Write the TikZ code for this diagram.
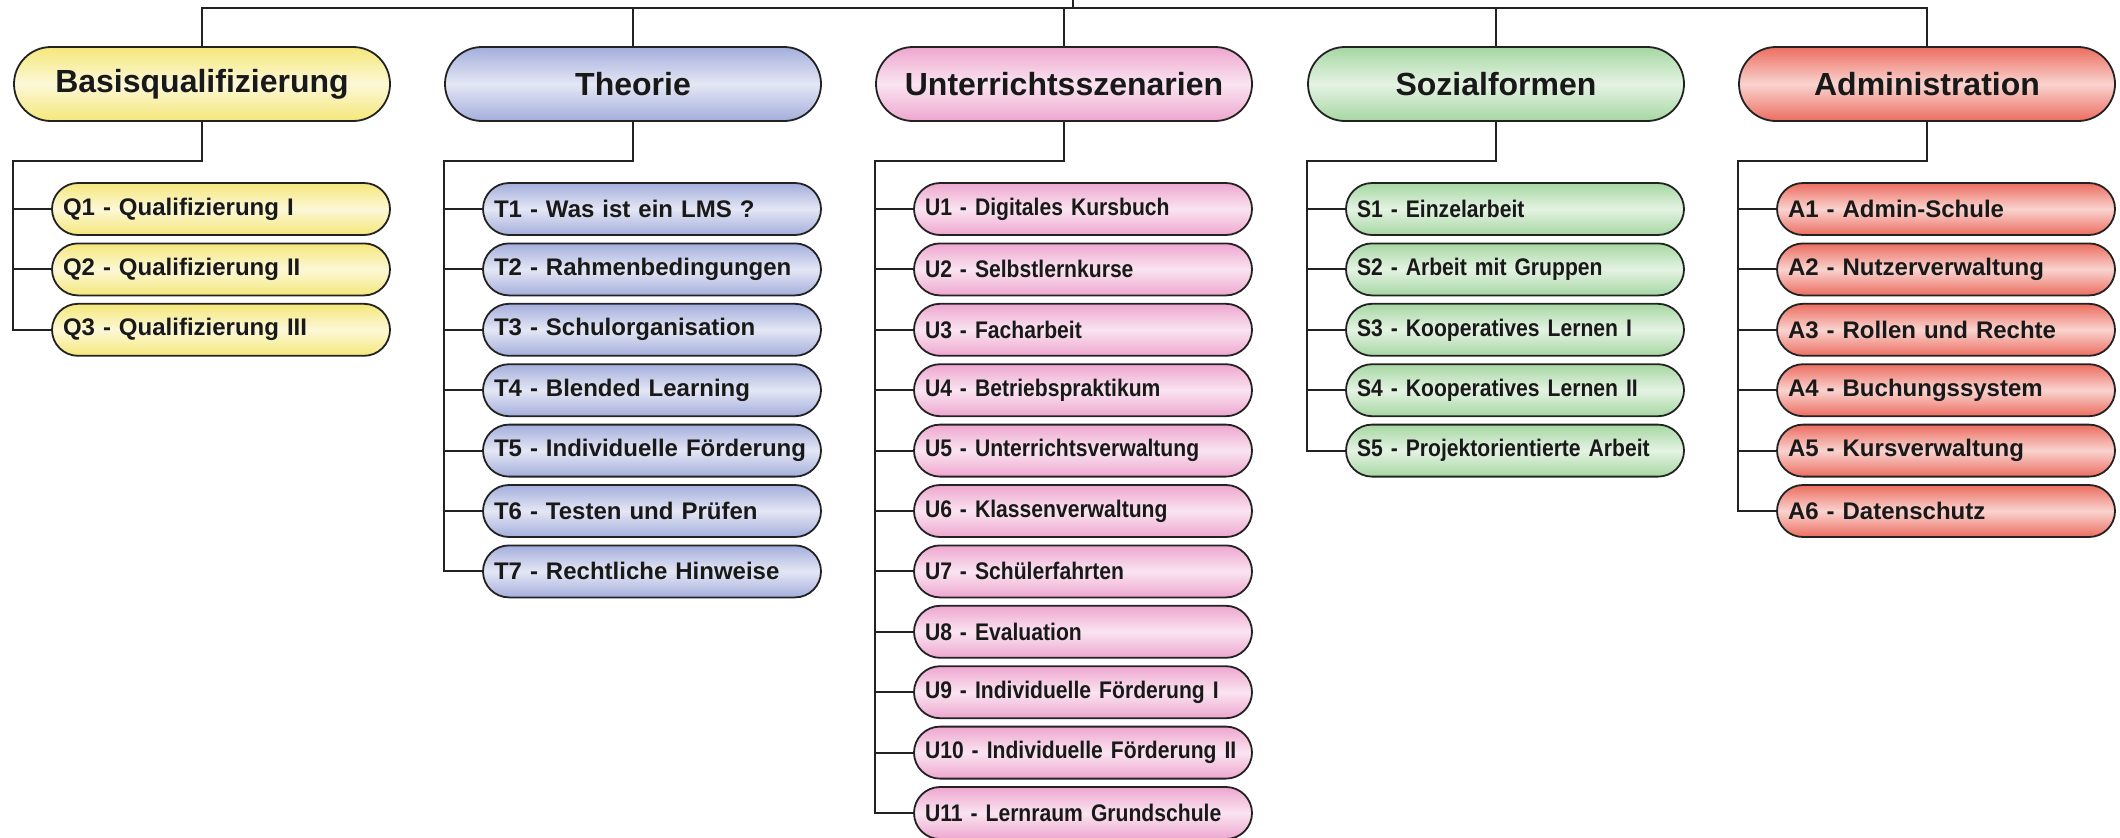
\documentclass[tikz,border=0pt]{standalone}
\usepackage{fontspec}
\setmainfont{Liberation Sans}
\newfontfamily\schmal[FakeStretch=0.88]{Liberation Sans}
\usetikzlibrary{positioning}

\definecolor{gelb}{HTML}{F5E77A}
\definecolor{blau}{HTML}{A4AEDC}
\definecolor{rosa}{HTML}{EEA6CF}
\definecolor{gruen}{HTML}{A6D7A2}
\definecolor{rot}{HTML}{EC6D60}
\definecolor{linie}{HTML}{222222}

\tikzset{
  box/.style={draw=linie, line width=0.9pt, top color=#1, bottom color=#1,
    middle color=#1!30!white, text=black!90},
  hdr/.style={box=#1, minimum width=188pt, minimum height=37pt,
    rounded corners=18.5pt, font=\bfseries\fontsize{16}{19}\selectfont},
  itm/.style={box=#1, minimum height=26pt, text width=158pt, inner xsep=5.5pt,
    align=left, rounded corners=13pt, font=\bfseries\fontsize{12}{14}\selectfont},
  itmn/.style={itm=#1, font=\schmal\bfseries\fontsize{12}{14}\selectfont},
  conn/.style={draw=linie, line width=1pt}
}

\begin{document}
\begin{tikzpicture}[x=0.5pt,y=-0.5pt]
      \useasboundingbox (0,0) rectangle (2120,837);
      \coordinate (top) at (1073,0);
      \coordinate (bar) at (1073,8);
      % headers
      \node[hdr=gelb] (basis) at (202,84) {Basisqualifizierung};
      \node[hdr=blau] (theorie) at (633,84) {Theorie};
      \node[hdr=rosa] (unterricht) at (1064,84) {Unterrichtsszenarien};
      \node[hdr=gruen] (sozial) at (1496,84) {Sozialformen};
      \node[hdr=rot] (admin) at (1927,84) {Administration};
      % Basisqualifizierung
      \node[itm=gelb] (q1) at (221,209) {Q1 - Qualifizierung I};
      \node[itm=gelb] (q2) at (221,269.4) {Q2 - Qualifizierung II};
      \node[itm=gelb] (q3) at (221,329.8) {Q3 - Qualifizierung III};
      % Theorie
      \node[itm=blau] (t1) at (652,209) {T1 - Was ist ein LMS ?};
      \node[itm=blau] (t2) at (652,269.4) {T2 - Rahmenbedingungen};
      \node[itm=blau] (t3) at (652,329.8) {T3 - Schulorganisation};
      \node[itm=blau] (t4) at (652,390.2) {T4 - Blended Learning};
      \node[itm=blau] (t5) at (652,450.6) {T5 - Individuelle Förderung};
      \node[itm=blau] (t6) at (652,511) {T6 - Testen und Prüfen};
      \node[itm=blau] (t7) at (652,571.4) {T7 - Rechtliche Hinweise};
      % Unterrichtsszenarien
      \node[itmn=rosa] (u1) at (1083,209) {U1 - Digitales Kursbuch};
      \node[itmn=rosa] (u2) at (1083,269.4) {U2 - Selbstlernkurse};
      \node[itmn=rosa] (u3) at (1083,329.8) {U3 - Facharbeit};
      \node[itmn=rosa] (u4) at (1083,390.2) {U4 - Betriebspraktikum};
      \node[itmn=rosa] (u5) at (1083,450.6) {U5 - Unterrichtsverwaltung};
      \node[itmn=rosa] (u6) at (1083,511) {U6 - Klassenverwaltung};
      \node[itmn=rosa] (u7) at (1083,571.4) {U7 - Schülerfahrten};
      \node[itmn=rosa] (u8) at (1083,631.8) {U8 - Evaluation};
      \node[itmn=rosa] (u9) at (1083,692.2) {U9 - Individuelle Förderung I};
      \node[itmn=rosa] (u10) at (1083,752.6) {U10 - Individuelle Förderung II};
      \node[itmn=rosa] (u11) at (1083,813) {U11 - Lernraum Grundschule};
      % Sozialformen
      \node[itmn=gruen] (s1) at (1515,209) {S1 - Einzelarbeit};
      \node[itmn=gruen] (s2) at (1515,269.4) {S2 - Arbeit mit Gruppen};
      \node[itmn=gruen] (s3) at (1515,329.8) {S3 - Kooperatives Lernen I};
      \node[itmn=gruen] (s4) at (1515,390.2) {S4 - Kooperatives Lernen II};
      \node[itmn=gruen] (s5) at (1515,450.6) {S5 - Projektorientierte Arbeit};
      % Administration
      \node[itm=rot] (a1) at (1946,209) {A1 - Admin-Schule};
      \node[itm=rot] (a2) at (1946,269.4) {A2 - Nutzerverwaltung};
      \node[itm=rot] (a3) at (1946,329.8) {A3 - Rollen und Rechte};
      \node[itm=rot] (a4) at (1946,390.2) {A4 - Buchungssystem};
      \node[itm=rot] (a5) at (1946,450.6) {A5 - Kursverwaltung};
      \node[itm=rot] (a6) at (1946,511) {A6 - Datenschutz};
      \begin{scope}[conn]
        \draw (top) to (bar);
        \draw (basis.north) |- (bar);
        \draw (admin.north) |- (bar);
        \draw (theorie.north) to (theorie.north |- bar);
        \draw (unterricht.north) to (unterricht.north |- bar);
        \draw (sozial.north) to (sozial.north |- bar);
        \draw (basis.south) -- ++(0,39) -| (q3.west -| basis.west) -- (q3.west);
        \draw (q1.west) to (q1.west -| basis.west);
        \draw (q2.west) to (q2.west -| basis.west);
        \draw (theorie.south) -- ++(0,39) -| (t7.west -| theorie.west) -- (t7.west);
        \draw (t1.west) to (t1.west -| theorie.west);
        \draw (t2.west) to (t2.west -| theorie.west);
        \draw (t3.west) to (t3.west -| theorie.west);
        \draw (t4.west) to (t4.west -| theorie.west);
        \draw (t5.west) to (t5.west -| theorie.west);
        \draw (t6.west) to (t6.west -| theorie.west);
        \draw (unterricht.south) -- ++(0,39) -| (u11.west -| unterricht.west) -- (u11.west);
        \draw (u1.west) to (u1.west -| unterricht.west);
        \draw (u2.west) to (u2.west -| unterricht.west);
        \draw (u3.west) to (u3.west -| unterricht.west);
        \draw (u4.west) to (u4.west -| unterricht.west);
        \draw (u5.west) to (u5.west -| unterricht.west);
        \draw (u6.west) to (u6.west -| unterricht.west);
        \draw (u7.west) to (u7.west -| unterricht.west);
        \draw (u8.west) to (u8.west -| unterricht.west);
        \draw (u9.west) to (u9.west -| unterricht.west);
        \draw (u10.west) to (u10.west -| unterricht.west);
        \draw (sozial.south) -- ++(0,39) -| (s5.west -| sozial.west) -- (s5.west);
        \draw (s1.west) to (s1.west -| sozial.west);
        \draw (s2.west) to (s2.west -| sozial.west);
        \draw (s3.west) to (s3.west -| sozial.west);
        \draw (s4.west) to (s4.west -| sozial.west);
        \draw (admin.south) -- ++(0,39) -| (a6.west -| admin.west) -- (a6.west);
        \draw (a1.west) to (a1.west -| admin.west);
        \draw (a2.west) to (a2.west -| admin.west);
        \draw (a3.west) to (a3.west -| admin.west);
        \draw (a4.west) to (a4.west -| admin.west);
        \draw (a5.west) to (a5.west -| admin.west);
      \end{scope}
    \end{tikzpicture}
\end{document}
